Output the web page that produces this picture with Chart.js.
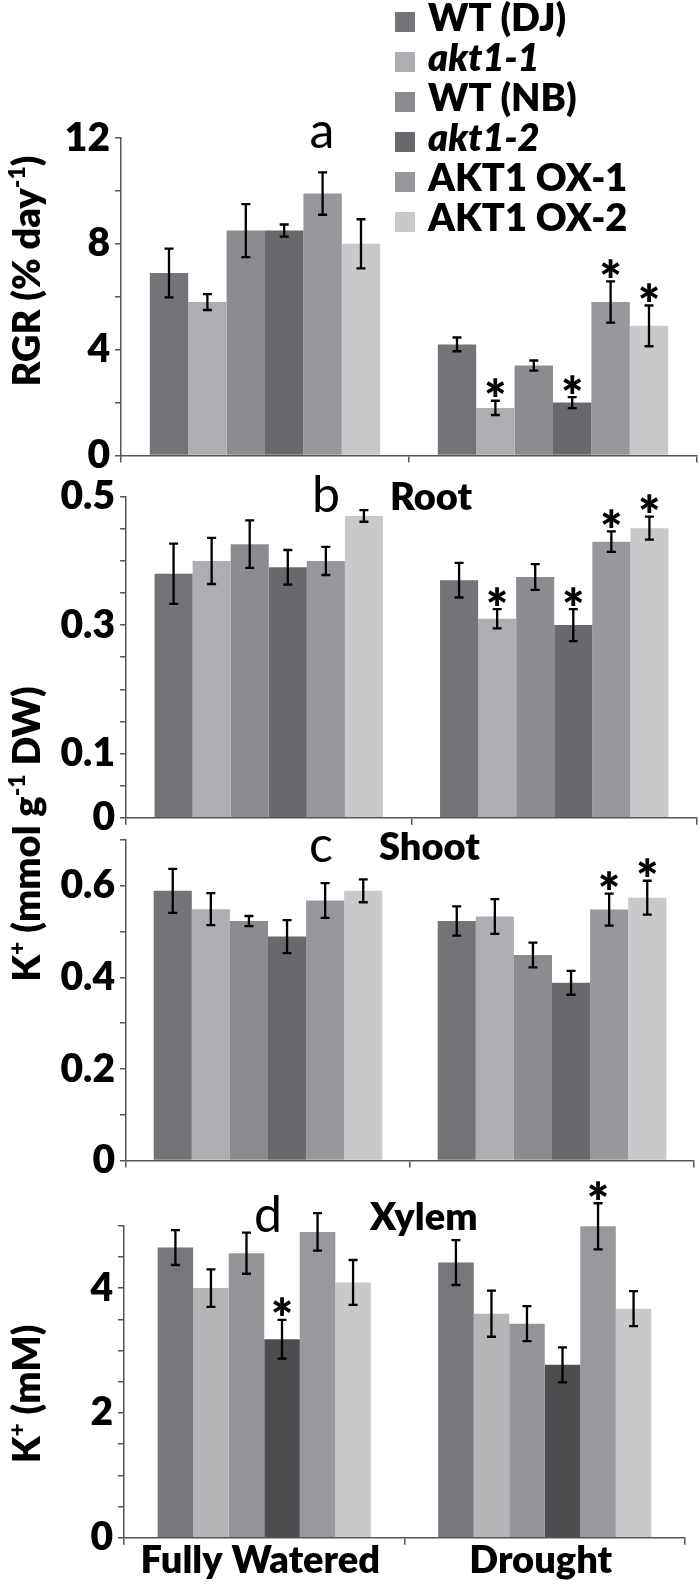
<!DOCTYPE html>
<html>
<head>
<meta charset="utf-8">
<script src="https://cdn.jsdelivr.net/npm/chart.js@4.4.1/dist/chart.umd.min.js"></script>
<style>
  html, body { margin: 0; padding: 0; background: #fff; }
  #wrap { position: relative; width: 700px; height: 1586px; overflow: hidden; }
  #wrap canvas { position: absolute; left: 0; }
</style>
</head>
<body>
<div id="wrap">
  <canvas id="rgrChart" width="700" height="480" style="top:0px"></canvas>
  <canvas id="rootChart" width="700" height="540" style="top:470px"></canvas>
  <canvas id="shootChart" width="700" height="370" style="top:815px"></canvas>
  <canvas id="xylemChart" width="700" height="426" style="top:1160px"></canvas>
</div>
<script>
/******************* Data ***********************/
const conditions = ['Fully Watered', 'Drought'];
const lines = ['WT (DJ)', 'akt1-1', 'WT (NB)', 'akt1-2', 'AKT1 OX-1', 'AKT1 OX-2'];
const lineItalic = [false, true, false, true, false, false];

// a - RGR, one row per line: [fully watered, drought]
const rgrMean = [[6.9, 4.2], [5.8, 1.8], [8.5, 3.4], [8.5, 2.0], [9.9, 5.8], [8.0, 4.9]];
const rgrErr  = [[0.92, 0.26], [0.3, 0.27], [1.0, 0.19], [0.23, 0.21], [0.8, 0.78], [0.93, 0.77]];
const rgrStar = [[0, 0], [0, 1], [0, 0], [0, 1], [0, 1], [0, 1]];
const rgrTickLabels = [0, 4, 8, 12];

// b - root K+
const rootMean = [[0.38, 0.37], [0.40, 0.31], [0.426, 0.375], [0.39, 0.30], [0.40, 0.43], [0.47, 0.451]];
const rootErr  = [[0.047, 0.027], [0.036, 0.015], [0.037, 0.02], [0.027, 0.025], [0.022, 0.016], [0.009, 0.018]];
const rootStar = [[0, 0], [0, 1], [0, 0], [0, 1], [0, 1], [0, 1]];
const rootTickLabels = [0, 0.1, 0.3, 0.5];

// c - shoot K+
const shootMean = [[0.589, 0.523], [0.549, 0.533], [0.523, 0.449], [0.489, 0.388], [0.568, 0.548], [0.589, 0.574]];
const shootErr  = [[0.048, 0.032], [0.035, 0.038], [0.011, 0.027], [0.036, 0.026], [0.038, 0.035], [0.025, 0.037]];
const shootStar = [[0, 0], [0, 0], [0, 0], [0, 0], [0, 1], [0, 1]];
const shootTickLabels = [0, 0.2, 0.4, 0.6];

// d - xylem K+
const xylemMean = [[4.65, 4.41], [4.0, 3.59], [4.56, 3.43], [3.18, 2.77], [4.9, 4.99], [4.09, 3.67]];
const xylemErr  = [[0.28, 0.36], [0.3, 0.37], [0.33, 0.28], [0.31, 0.28], [0.3, 0.37], [0.36, 0.28]];
const xylemStar = [[0, 0], [0, 0], [0, 0], [1, 0], [0, 1], [0, 0]];
const xylemTickLabels = [0, 2, 4];

const barColors   = ['#737478', '#adaeb1', '#8b8c90', '#68696d', '#97989c', '#c8c9cb'];
const xylemColors = ['#76777b', '#b4b5b7', '#949599', '#4d4d50', '#98999d', '#c8c9cb'];

const FONT = 'Lato';
const HEAVY = '800';
const AXIS_COLOR = '#555';

/******************* Plugins ***********************/
const errorBars = {
    id: 'errorBars',
    afterDatasetsDraw(chart) {
        const ctx = chart.ctx;
        const y = chart.scales.y;
        ctx.save();
        ctx.strokeStyle = '#000';
        ctx.fillStyle = '#000';
        ctx.lineWidth = 2.3;
        chart.data.datasets.forEach((ds, i) => {
            chart.getDatasetMeta(i).data.forEach((bar, j) => {
                const m = ds.data[j], e = ds.errors[j];
                const yT = y.getPixelForValue(m + e);
                const yB = y.getPixelForValue(m - e);
                ctx.beginPath();
                ctx.moveTo(bar.x, yT); ctx.lineTo(bar.x, yB);
                ctx.moveTo(bar.x - 4.5, yT); ctx.lineTo(bar.x + 4.5, yT);
                ctx.moveTo(bar.x - 4.5, yB); ctx.lineTo(bar.x + 4.5, yB);
                ctx.stroke();
                if (ds.stars[j]) {
                    ctx.font = HEAVY + ' 52px ' + FONT;
                    ctx.textAlign = 'center';
                    ctx.textBaseline = 'alphabetic';
                    const mt = ctx.measureText('*');
                    const mid = (mt.actualBoundingBoxAscent - mt.actualBoundingBoxDescent) / 2;
                    ctx.fillText('*', bar.x, yT - 13 + mid);
                }
            });
        });
        ctx.restore();
    }
};

function drawRotatedRich(ctx, parts, cx, cy, size) {
    ctx.save();
    ctx.translate(cx, cy);
    ctx.rotate(-Math.PI / 2);
    const fontFor = p => HEAVY + ' ' + (p.sup ? Math.round(size * 0.6) : size) + 'px ' + FONT;
    let total = 0;
    parts.forEach(p => { ctx.font = fontFor(p); total += ctx.measureText(p.text).width; });
    ctx.font = fontFor({});
    const base = ctx.measureText('H').actualBoundingBoxAscent / 2;
    ctx.textAlign = 'left';
    ctx.textBaseline = 'alphabetic';
    ctx.fillStyle = '#000';
    let x = -total / 2;
    parts.forEach(p => {
        ctx.font = fontFor(p);
        ctx.fillText(p.text, x, p.sup ? base - size * 0.4 : base);
        x += ctx.measureText(p.text).width;
    });
    ctx.restore();
}

const panelText = {
    id: 'panelText',
    afterDraw(chart, args, opts) {
        const ctx = chart.ctx;
        ctx.save();
        ctx.fillStyle = '#000';
        ctx.textBaseline = 'alphabetic';
        (opts.labels || []).forEach(l => {
            ctx.font = l.font;
            ctx.textAlign = l.align || 'left';
            ctx.fillText(l.text, l.x, l.y);
        });
        ctx.restore();
        if (opts.yTitle) {
            drawRotatedRich(ctx, opts.yTitle.parts, opts.yTitle.x, opts.yTitle.y, 38);
        }
    }
};

const sideLegend = {
    id: 'sideLegend',
    afterDraw(chart) {
        const ctx = chart.ctx;
        ctx.save();
        chart.data.datasets.forEach((ds, i) => {
            const top = 12 + i * 40;
            ctx.fillStyle = ds.backgroundColor;
            ctx.fillRect(395, top, 20, 20);
            ctx.fillStyle = '#000';
            ctx.font = (lineItalic[i] ? 'italic ' : '') + HEAVY + ' 38px ' + FONT;
            ctx.textAlign = 'left';
            ctx.textBaseline = 'alphabetic';
            ctx.fillText(ds.label, 428, top + 19);
        });
        ctx.restore();
    }
};

/******************* Panels ***********************/
function makePanel(id, cfg) {
    const datasets = lines.map((name, i) => ({
        label: name,
        data: cfg.mean[i],
        errors: cfg.err[i],
        stars: cfg.star[i],
        backgroundColor: cfg.colors[i],
        borderWidth: 0,
        barPercentage: 1,
        categoryPercentage: cfg.catPct
    }));
    const tickFont = {family: FONT, size: 39, weight: HEAVY, lineHeight: 1};
    return new Chart(document.getElementById(id), {
        type: 'bar',
        data: {labels: conditions, datasets: datasets},
        options: {
            responsive: false,
            animation: false,
            devicePixelRatio: 1,
            layout: {padding: {left: 0, right: cfg.right, top: cfg.top, bottom: cfg.bottom}},
            plugins: {
                legend: {display: false},
                tooltip: {enabled: false},
                panelText: {labels: cfg.labels, yTitle: cfg.yTitle}
            },
            scales: {
                x: {
                    grid: {offset: true, drawOnChartArea: false, tickLength: 7, color: AXIS_COLOR, lineWidth: 1.5},
                    border: {color: AXIS_COLOR, width: 1.5},
                    ticks: {display: cfg.showX, font: {family: FONT, size: 38, weight: HEAVY, lineHeight: 1},
                            color: '#000', padding: -3, maxRotation: 0, labelOffset: -4},
                    afterFit: s => { s.height = cfg.xHeight; }
                },
                y: {
                    min: 0,
                    max: cfg.max,
                    grid: {drawOnChartArea: false, tickLength: 6, color: AXIS_COLOR, lineWidth: 1.5},
                    border: {color: AXIS_COLOR, width: 1.5},
                    ticks: {
                        stepSize: cfg.step,
                        autoSkip: false,
                        font: tickFont,
                        color: '#000',
                        padding: 5,
                        callback: v => {
                            const l = cfg.tickLabels.find(t => Math.abs(t - v) < 1e-6);
                            return l === undefined ? '' : String(l);
                        }
                    },
                    afterFit: s => { s.width = cfg.left; }
                }
            }
        },
        plugins: cfg.plugins
    });
}

const rgrChart = makePanel('rgrChart', {
    mean: rgrMean, err: rgrErr, star: rgrStar, colors: barColors, tickLabels: rgrTickLabels,
    max: 12, step: 2, catPct: 0.8,
    left: 121, right: 3, top: 138, bottom: 0, xHeight: 21, showX: false,
    labels: [{text: 'a', x: 322, y: 148, font: '50px ' + FONT, align: 'center'}],
    yTitle: {parts: [{text: 'RGR (% day'}, {text: '-1', sup: true}, {text: ')'}], x: 26, y: 271},
    plugins: [errorBars, panelText, sideLegend]
});

const rootChart = makePanel('rootChart', {
    mean: rootMean, err: rootErr, star: rootStar, colors: barColors, tickLabels: rootTickLabels,
    max: 0.5, step: 0.05, catPct: 0.8,
    left: 126, right: 3, top: 26.7, bottom: 180.3, xHeight: 12, showX: false,
    labels: [
        {text: 'b', x: 326, y: 42, font: '50px ' + FONT, align: 'center'},
        {text: 'Root', x: 390, y: 40, font: HEAVY + ' 38px ' + FONT}
    ],
    yTitle: {parts: [{text: 'K'}, {text: '+', sup: true}, {text: ' (mmol g'}, {text: '-1', sup: true}, {text: ' DW)'}], x: 26, y: 364},
    plugins: [errorBars, panelText]
});

const shootChart = makePanel('shootChart', {
    mean: shootMean, err: shootErr, star: shootStar, colors: barColors, tickLabels: shootTickLabels,
    max: 0.7, step: 0.1, catPct: 0.805,
    left: 126, right: 6, top: 25, bottom: 10, xHeight: 13.3, showX: false,
    labels: [
        {text: 'c', x: 321, y: 47, font: '50px ' + FONT, align: 'center'},
        {text: 'Shoot', x: 379, y: 45, font: HEAVY + ' 38px ' + FONT}
    ],
    plugins: [errorBars, panelText]
});

const xylemChart = makePanel('xylemChart', {
    mean: xylemMean, err: xylemErr, star: xylemStar, colors: xylemColors, tickLabels: xylemTickLabels,
    max: 5, step: 0.5, catPct: 0.76,
    left: 124, right: 15, top: 65.7, bottom: 0, xHeight: 48.3, showX: true,
    labels: [
        {text: 'd', x: 268, y: 72, font: '50px ' + FONT, align: 'center'},
        {text: 'Xylem', x: 370, y: 70, font: HEAVY + ' 38px ' + FONT}
    ],
    yTitle: {parts: [{text: 'K'}, {text: '+', sup: true}, {text: ' (mM)'}], x: 26, y: 234},
    plugins: [errorBars, panelText]
});
</script>
</body>
</html>
